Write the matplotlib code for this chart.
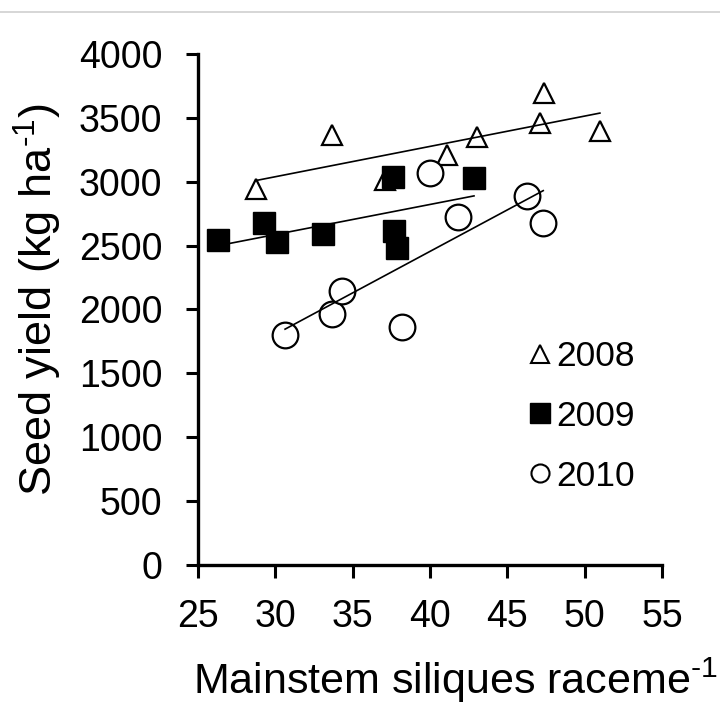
import numpy as np
import matplotlib
matplotlib.use("Agg")
import matplotlib.pyplot as plt
from matplotlib.lines import Line2D

plt.rcParams['font.family'] = ['Liberation Sans', 'DejaVu Sans']
plt.rcParams['mathtext.fontset'] = 'custom'
plt.rcParams['mathtext.rm'] = 'Liberation Sans'
plt.rcParams['mathtext.it'] = 'Liberation Sans'

# Data
x2008 = [28.74, 33.65, 37.07, 41.07, 43.01, 47.10, 47.36, 50.97]
y2008 = [2943, 3366, 3014, 3209, 3348, 3458, 3692, 3397]

x2009 = [26.31, 29.28, 30.14, 33.11, 37.63, 37.70, 37.86, 42.84]
y2009 = [2544, 2680, 2531, 2589, 3040, 2614, 2484, 3032]

x2010 = [30.64, 33.65, 34.30, 38.21, 40.00, 41.82, 46.24, 47.31]
y2010 = [1800, 1965, 2145, 1865, 3066, 2726, 2888, 2675]

labels = ['2008', '2009', '2010']
xticks = [25, 30, 35, 40, 45, 50, 55]
yticks = [0, 500, 1000, 1500, 2000, 2500, 3000, 3500, 4000]

fig = plt.figure(figsize=(7.2, 7.05), dpi=100)
ax = fig.add_axes([0.2746, 0.1986, 0.9199 - 0.2746, 0.9234 - 0.1986])

series = [
    (x2008, y2008, dict(marker='^', ms=14.5, mfc='white', mec='black', mew=1.6)),
    (x2009, y2009, dict(marker='s', ms=15.5, mfc='black', mec='black', mew=1.0)),
    (x2010, y2010, dict(marker='o', ms=18.5, mfc='white', mec='black', mew=1.6)),
]

for xs, ys, st in series:
    xs = np.asarray(xs); ys = np.asarray(ys)
    ax.plot(xs, ys, ls='none', zorder=2, **st)

for xs, ys, st in series:
    xs = np.asarray(xs); ys = np.asarray(ys)
    k, b = np.polyfit(xs, ys, 1)
    xl = np.array([xs.min(), xs.max()])
    ax.plot(xl, k * xl + b, color='black', lw=1.2, zorder=3)

ax.set_xlim(25, 55)
ax.set_ylim(0, 4000)
ax.set_xticks(xticks)
ax.set_yticks(yticks)
ax.tick_params(axis='both', labelsize=27, width=2.2, direction='out')
ax.tick_params(axis='x', length=9.5, pad=15)
ax.tick_params(axis='y', length=8.6, pad=17)
for s in ['top', 'right']:
    ax.spines[s].set_visible(False)
for s in ['left', 'bottom']:
    ax.spines[s].set_linewidth(2.4)

ax.set_xlabel(r'Mainstem siliques raceme$^{\text{-1}}$', fontsize=31)
ax.xaxis.set_label_coords(0.554, -0.178)
ax.set_ylabel(r'Seed yield (kg ha$^{\text{-1}}$)', fontsize=32.5)
ax.yaxis.set_label_coords(-0.288, 0.52)

handles = [
    Line2D([], [], ls='none', marker='^', ms=13, mfc='white', mec='black', mew=1.5),
    Line2D([], [], ls='none', marker='s', ms=15, mfc='black', mec='black'),
    Line2D([], [], ls='none', marker='o', ms=13, mfc='white', mec='black', mew=1.5),
]
ax.legend(handles, labels, frameon=False, fontsize=25.5, loc='upper left',
          bbox_to_anchor=(0.676, 0.475), handlelength=0.6, handletextpad=0.15,
          labelspacing=0.76, borderpad=0)

fig.add_artist(Line2D([0, 1], [1 - 12 / 705, 1 - 12 / 705], color='#d0d0d0', lw=1.2,
                      transform=fig.transFigure))

fig.savefig('out.png', dpi=100, facecolor='white')
